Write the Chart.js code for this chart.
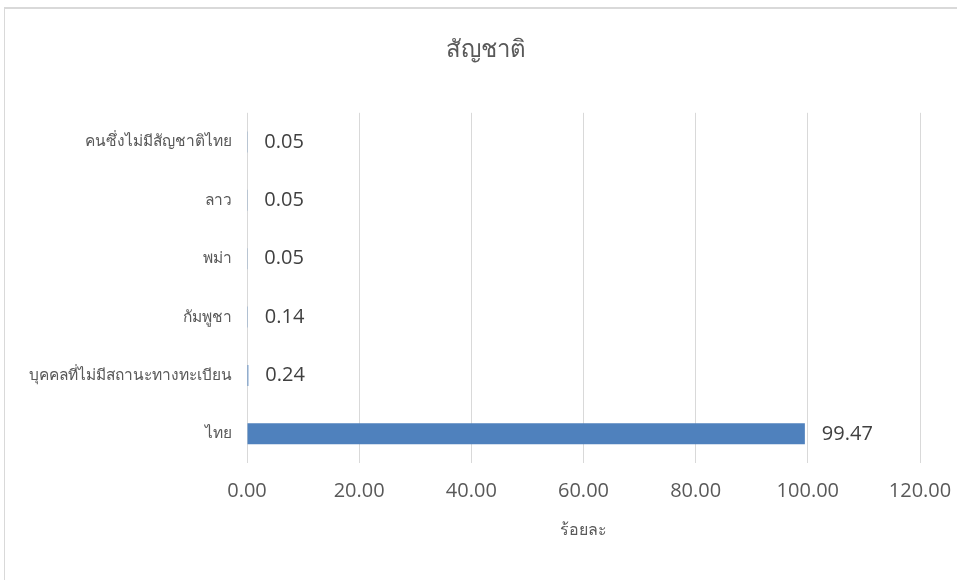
<!DOCTYPE html>
<html>
<head>
<meta charset="utf-8">
<script src="https://cdn.jsdelivr.net/npm/chart.js@4/dist/chart.umd.min.js"></script>
<style>
  html, body { margin: 0; padding: 0; background: #ffffff; }
  #wrap { position: relative; width: 957px; height: 580px; overflow: hidden; }
  #frame { position: absolute; left: 4px; top: 7px; width: 1000px; height: 700px;
           border-top: 2px solid #d9d9d9; border-left: 1px solid #d9d9d9; box-sizing: border-box; }
  canvas { position: absolute; left: 0; top: 0; }
</style>
</head>
<body>
<div id="wrap">
  <div id="frame"></div>
  <canvas id="c" width="957" height="580"></canvas>
</div>
<script>
const chartTitle = 'สัญชาติ';
const axisTitle = 'ร้อยละ';
const categories = ['คนซึ่งไม่มีสัญชาติไทย', 'ลาว', 'พม่า', 'กัมพูชา', 'บุคคลที่ไม่มีสถานะทางทะเบียน', 'ไทย'];
const values = [0.05, 0.05, 0.05, 0.14, 0.24, 99.47];
const xTicks = [0, 20, 40, 60, 80, 100, 120];

const FONT = "'Open Sans', 'Noto Sans', 'DejaVu Sans', sans-serif";

const valueLabels = {
  id: 'valueLabels',
  afterDatasetsDraw(chart) {
    const ctx = chart.ctx;
    const meta = chart.getDatasetMeta(0);
    ctx.save();
    ctx.font = '20px ' + FONT;
    ctx.fillStyle = '#404040';
    ctx.textAlign = 'left';
    ctx.textBaseline = 'middle';
    meta.data.forEach((el, i) => {
      ctx.fillText(values[i].toFixed(2), el.x + 17, el.y);
    });
    ctx.restore();
  }
};

new Chart(document.getElementById('c'), {
  type: 'bar',
  data: {
    labels: categories,
    datasets: [{
      data: values,
      backgroundColor: '#4f81bd',
      borderWidth: 0,
      barPercentage: 0.36,
      categoryPercentage: 1.0
    }]
  },
  options: {
    indexAxis: 'y',
    responsive: false,
    animation: false,
    devicePixelRatio: 1,
    layout: { padding: { left: 15, right: 0, top: 0, bottom: 0 } },
    plugins: {
      legend: { display: false },
      tooltip: { enabled: false },
      title: {
        display: true,
        text: chartTitle,
        color: '#595959',
        font: { family: FONT, size: 24, weight: 'normal', lineHeight: 1.2 },
        padding: { top: 36, bottom: 48 }
      }
    },
    scales: {
      x: {
        min: 0,
        max: 120,
        afterBuildTicks(scale) { scale.ticks = xTicks.map(v => ({ value: v })); },
        afterFit(scale) { scale.height = 117; scale.paddingLeft = 0; scale.paddingRight = 37; },
        grid: { color: '#d9d9d9', drawTicks: false, lineWidth: 1 },
        border: { display: false },
        ticks: {
          padding: 16,
          color: '#595959',
          font: { family: FONT, size: 20 },
          callback: v => Number(v).toFixed(2)
        },
        title: {
          display: true,
          text: axisTitle,
          color: '#595959',
          font: { family: FONT, size: 16 },
          padding: { top: 0, bottom: 40 }
        }
      },
      y: {
        afterFit(scale) { scale.width = 232; },
        grid: { display: false, drawTicks: false },
        border: { display: false },
        ticks: {
          padding: 15,
          color: '#595959',
          font: { family: FONT, size: 15.5 }
        }
      }
    }
  },
  plugins: [valueLabels]
});
</script>
</body>
</html>
